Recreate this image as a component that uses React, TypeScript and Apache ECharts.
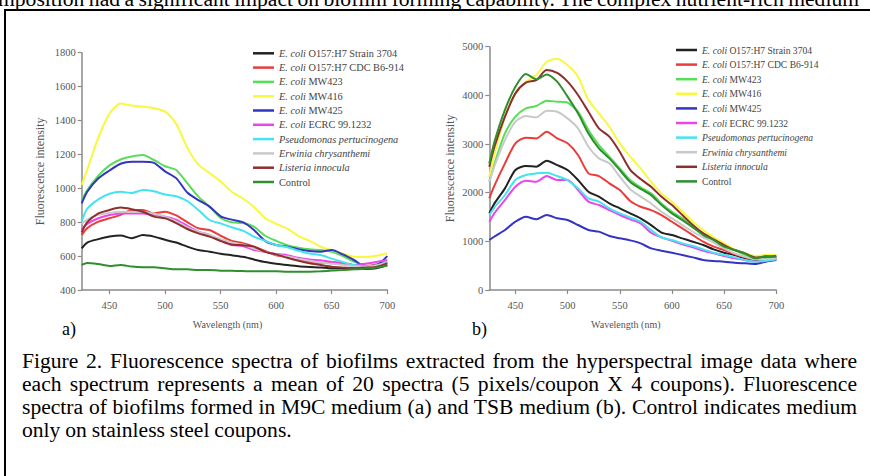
import React, { useEffect, useRef } from "react";
import * as echarts from "echarts";

const wavelengths = [425, 430, 440, 450, 460, 470, 480, 490, 500, 510, 520, 530, 540, 550, 560, 570, 580, 590, 600, 610, 620, 630, 640, 650, 660, 670, 680, 690, 700];
const xTicks = [450, 500, 550, 600, 650, 700];

const seriesNames = [
  "E. coli O157:H7 Strain 3704",
  "E. coli O157:H7 CDC B6-914",
  "E. coli MW423",
  "E. coli MW416",
  "E. coli MW425",
  "E. coli ECRC 99.1232",
  "Pseudomonas pertucinogena",
  "Erwinia chrysanthemi",
  "Listeria innocula",
  "Control",
];
const legendLabels = [
  "{i|E. coli}{n| O157:H7 Strain 3704}",
  "{i|E. coli}{n| O157:H7 CDC B6-914}",
  "{i|E. coli}{n| MW423}",
  "{i|E. coli}{n| MW416}",
  "{i|E. coli}{n| MW425}",
  "{i|E. coli}{n| ECRC 99.1232}",
  "{i|Pseudomonas pertucinogena}",
  "{i|Erwinia chrysanthemi}",
  "{i|Listeria innocula}",
  "{n|Control}",
];
const colors = ["#222222", "#ec3b3b", "#58dd58", "#f8f83c", "#3434c2", "#ec45ec", "#45e3f0", "#c9c9c9", "#8e2f2f", "#2f8f2f"];

// Chart a) M9C medium
const aStrain3704 = [646, 680, 700, 715, 721, 706, 724, 715, 696, 680, 656, 636, 626, 614, 605, 596, 580, 565, 555, 547, 540, 536, 533, 528, 528, 528, 524, 528, 547];
const aCDC = [725, 765, 803, 823, 843, 872, 872, 852, 862, 840, 800, 764, 754, 720, 690, 676, 656, 630, 605, 595, 580, 565, 557, 563, 560, 547, 540, 550, 567];
const aMW423 = [930, 990, 1075, 1135, 1170, 1187, 1196, 1167, 1130, 1108, 1030, 951, 892, 825, 800, 795, 774, 720, 690, 665, 650, 640, 636, 625, 600, 567, 545, 540, 557];
const aMW416 = [1020, 1110, 1300, 1440, 1500, 1488, 1482, 1472, 1452, 1380, 1240, 1140, 1090, 1040, 980, 940, 890, 825, 790, 762, 720, 690, 655, 635, 615, 596, 594, 602, 617];
const aMW425 = [911, 980, 1059, 1105, 1145, 1157, 1157, 1150, 1100, 1060, 975, 930, 892, 835, 815, 800, 754, 690, 665, 656, 640, 630, 626, 636, 610, 577, 540, 545, 600];
const aECRC = [760, 790, 823, 843, 852, 852, 852, 843, 833, 815, 778, 744, 725, 690, 666, 660, 636, 625, 612, 605, 590, 580, 575, 565, 555, 547, 555, 565, 577];
const aPseudomonas = [803, 880, 935, 968, 980, 972, 990, 982, 963, 953, 925, 872, 813, 793, 770, 750, 715, 690, 665, 652, 632, 615, 607, 585, 565, 547, 540, 545, 567];
const aErwinia = [790, 815, 843, 855, 862, 862, 862, 850, 833, 805, 770, 744, 725, 700, 680, 668, 645, 625, 610, 598, 585, 572, 562, 555, 548, 540, 535, 545, 560];
const aListeria = [740, 800, 852, 872, 886, 877, 862, 833, 823, 795, 760, 734, 715, 690, 668, 664, 656, 625, 610, 590, 572, 557, 547, 537, 532, 528, 532, 536, 557];
const aControl = [548, 560, 553, 542, 548, 538, 534, 534, 528, 522, 522, 518, 518, 514, 514, 512, 510, 510, 510, 508, 508, 508, 510, 515, 518, 522, 526, 532, 545];

// Chart b) TSB medium
const bStrain3704 = [1575, 1780, 2089, 2466, 2548, 2534, 2657, 2568, 2466, 2260, 2020, 1918, 1781, 1678, 1575, 1471, 1334, 1180, 1129, 1060, 992, 924, 835, 766, 719, 650, 616, 630, 650];
const bCDC = [1884, 2150, 2603, 3014, 3130, 3116, 3253, 3116, 3014, 2774, 2397, 2342, 2192, 2055, 1830, 1711, 1642, 1540, 1403, 1266, 1129, 992, 890, 821, 739, 670, 630, 650, 670];
const bMW423 = [2226, 2600, 3219, 3562, 3733, 3781, 3890, 3870, 3849, 3664, 3288, 2979, 2740, 2500, 2260, 2110, 1985, 1779, 1608, 1471, 1300, 1163, 1040, 924, 821, 719, 650, 650, 670];
const bMW416 = [2330, 2800, 3560, 4040, 4280, 4420, 4690, 4750, 4620, 4383, 3904, 3630, 3356, 3014, 2740, 2498, 2224, 1985, 1813, 1608, 1403, 1232, 1081, 958, 835, 753, 698, 719, 719];
const bMW425 = [1027, 1100, 1233, 1404, 1507, 1452, 1541, 1473, 1438, 1336, 1233, 1199, 1110, 1062, 1020, 958, 855, 808, 766, 719, 670, 616, 595, 582, 561, 548, 534, 582, 616];
const bECRC = [1404, 1580, 1849, 2123, 2247, 2226, 2342, 2260, 2260, 2055, 1815, 1747, 1644, 1541, 1450, 1369, 1177, 1081, 1012, 938, 876, 808, 753, 698, 650, 616, 582, 602, 630];
const bPseudomonas = [1541, 1700, 1952, 2260, 2363, 2397, 2411, 2342, 2260, 2089, 1884, 1815, 1678, 1575, 1490, 1403, 1232, 1081, 1026, 958, 903, 835, 766, 719, 670, 616, 582, 602, 630];
const bErwinia = [2226, 2550, 3082, 3459, 3575, 3548, 3685, 3664, 3527, 3322, 2945, 2705, 2603, 2329, 2070, 1920, 1779, 1608, 1471, 1334, 1197, 1081, 972, 855, 753, 684, 630, 630, 650];
const bListeria = [2534, 2950, 3562, 4041, 4260, 4315, 4520, 4460, 4281, 4007, 3664, 3322, 3151, 2842, 2470, 2280, 2121, 1916, 1745, 1540, 1334, 1163, 1040, 924, 821, 753, 670, 684, 698];
const bControl = [2600, 3050, 3700, 4178, 4440, 4330, 4431, 4281, 3973, 3630, 3219, 2911, 2705, 2466, 2220, 2080, 1950, 1745, 1574, 1437, 1287, 1129, 1026, 890, 821, 753, 650, 698, 684];

const chartA = [aStrain3704, aCDC, aMW423, aMW416, aMW425, aECRC, aPseudomonas, aErwinia, aListeria, aControl];
const chartB = [bStrain3704, bCDC, bMW423, bMW416, bMW425, bECRC, bPseudomonas, bErwinia, bListeria, bControl];

const captionLines = [
  "Figure 2. Fluorescence spectra of biofilms extracted from the hyperspectral image data where",
  "each spectrum represents a mean of 20 spectra (5 pixels/coupon X 4 coupons).  Fluorescence",
  "spectra of biofilms formed in M9C medium (a) and TSB medium (b).  Control indicates medium",
  "only on stainless steel coupons.",
];
const topLine = "mposition had a significant impact on biofilm forming capability.  The complex nutrient-rich medium";

const SERIF = '"Liberation Serif", "Times New Roman", Times, serif';
const EC_SERIF = "Liberation Serif";
const AXIS_COLOR = "#8a8a8a";
const LABEL_COLOR = "#555555";

function makeXAxis(gridIndex: number) {
  return {
    type: "value",
    gridIndex,
    min: 425,
    max: 700,
    axisLine: { show: true, lineStyle: { color: AXIS_COLOR, width: 1.5 } },
    axisTick: { show: true, length: 4, customValues: xTicks, lineStyle: { color: AXIS_COLOR, width: 1.2 } },
    axisLabel: { customValues: xTicks, fontFamily: EC_SERIF, fontSize: 10.5, color: LABEL_COLOR, margin: 10, formatter: (v: number) => String(v) },
    splitLine: { show: false },
    name: "Wavelength (nm)",
    nameLocation: "middle",
    nameGap: 29,
    nameTextStyle: { fontFamily: EC_SERIF, fontSize: 10, color: LABEL_COLOR, padding: [0, 14, 0, 0] },
  };
}

function makeYAxis(gridIndex: number, min: number, max: number, interval: number, nameGap: number) {
  return {
    type: "value",
    gridIndex,
    min,
    max,
    interval,
    axisLine: { show: true, lineStyle: { color: AXIS_COLOR, width: 1.5 } },
    axisTick: { show: true, length: 4, lineStyle: { color: AXIS_COLOR, width: 1.2 } },
    axisLabel: { fontFamily: EC_SERIF, fontSize: 10.5, color: LABEL_COLOR, margin: 6, formatter: (v: number) => String(v) },
    splitLine: { show: false },
    name: "Fluorescence intensity",
    nameLocation: "middle",
    nameRotate: 90,
    nameGap,
    nameTextStyle: { fontFamily: EC_SERIF, fontSize: 12, color: LABEL_COLOR },
  };
}

function makeLegend(left: number, top: number, fontSize: number, gap: number) {
  const base = { fontFamily: EC_SERIF, fontSize, color: "#444444", lineHeight: 12 };
  return {
    orient: "vertical",
    left,
    top,
    padding: 0,
    itemGap: gap,
    itemWidth: 21,
    itemHeight: 2.5,
    icon: "rect",
    data: seriesNames,
    formatter: (name: string) => legendLabels[seriesNames.indexOf(name)],
    textStyle: { ...base, rich: { i: { ...base, fontStyle: "italic" }, n: { ...base } } },
  };
}

function makeSeries(sets: number[][], idx: number) {
  return sets.map((values, k) => ({
    name: seriesNames[k],
    type: "line",
    xAxisIndex: idx,
    yAxisIndex: idx,
    data: wavelengths.map((w, i) => [w, values[i]]),
    showSymbol: false,
    symbol: "none",
    smooth: 0.25,
    lineStyle: { width: 2, color: colors[k] },
    itemStyle: { color: colors[k] },
    z: 2,
  }));
}

export default function App() {
  const ref = useRef<HTMLDivElement>(null);
  useEffect(() => {
    if (!ref.current) return;
    const chart = echarts.init(ref.current, null, { renderer: "svg" });
    chart.setOption({
      animation: false,
      backgroundColor: "transparent",
      textStyle: { fontFamily: EC_SERIF },
      grid: [
        { left: 81.7, top: 52.7, width: 305.6, height: 237.3, containLabel: false },
        { left: 489.3, top: 46.7, width: 287, height: 243.3, containLabel: false },
      ],
      xAxis: [makeXAxis(0), makeXAxis(1)],
      yAxis: [makeYAxis(0, 400, 1800, 200, 36), makeYAxis(1, 0, 5000, 1000, 33)],
      legend: [makeLegend(253, 47.3, 10.3, 2.3), makeLegend(676, 44, 9.6, 2.6)],
      series: [...makeSeries(chartA, 0), ...makeSeries(chartB, 1)],
      graphic: [
        { type: "text", left: 62, top: 320, style: { text: "a)", fontFamily: EC_SERIF, fontSize: 18, fill: "#000" } },
        { type: "text", left: 472, top: 320, style: { text: "b)", fontFamily: EC_SERIF, fontSize: 18, fill: "#000" } },
      ],
    });
    return () => chart.dispose();
  }, []);

  const lineStyle = (top: number, justify: boolean, left: number, width: number, wordSpacing: number): React.CSSProperties => ({
    position: "absolute",
    left,
    top,
    width,
    fontSize: 21.6,
    lineHeight: "23px",
    wordSpacing,
    textAlign: justify ? "justify" : "left",
    textAlignLast: justify ? "justify" : "left",
    whiteSpace: "normal",
  });

  return (
    <div style={{ position: "fixed", left: 0, top: 0, width: 870, height: 476, overflow: "hidden", background: "#fff", fontFamily: SERIF, color: "#000" }}>
      <div style={lineStyle(-12, true, -2, 861, -2)}>{topLine}</div>
      <div style={{ position: "absolute", left: 4, top: 9, width: 900, height: 500, border: "2px solid #000", background: "#fff" }} />
      <div ref={ref} style={{ position: "absolute", left: 0, top: 0, width: 870, height: 476 }} />
      {captionLines.map((t, i) => (
        <div key={i} style={lineStyle(349.5 + i * 23, i < captionLines.length - 1, 22, 835, -0.5)}>{t}</div>
      ))}
    </div>
  );
}
